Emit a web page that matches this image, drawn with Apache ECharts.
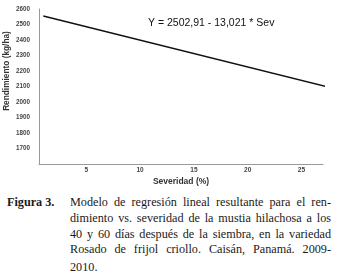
<!DOCTYPE html>
<html>
<head>
<meta charset="utf-8">
<script src="https://cdn.jsdelivr.net/npm/echarts@6/dist/echarts.min.js"></script>
<style>
html,body{margin:0;padding:0;background:#fff;}
#chart{position:absolute;left:0;top:0;width:341px;height:192px;}
#cap{position:absolute;left:0;top:0;width:341px;font-family:"Liberation Serif","DejaVu Serif",serif;font-size:12.2px;line-height:14px;color:#1a1a1a;}
#cap .fig{position:absolute;left:7px;font-weight:bold;}
#cap .ln{position:absolute;left:70px;width:261px;text-align:justify;text-align-last:justify;white-space:nowrap;}
#cap .last{text-align-last:left;}
</style>
</head>
<body>
<div id="chart"></div>
<div id="cap">
  <div class="fig" style="top:195px">Figura 3.</div>
  <div class="ln" style="top:195px">Modelo de regresión lineal resultante para el ren-</div>
  <div class="ln" style="top:211px">dimiento vs. severidad de la mustia hilachosa a los</div>
  <div class="ln" style="top:227px">40 y 60 días después de la siembra, en la variedad</div>
  <div class="ln" style="top:242px">Rosado de frijol criollo. Caisán, Panamá. 2009-</div>
  <div class="ln last" style="top:260px">2010.</div>
</div>
<script>
// valores
var sevTicks = [5, 10, 15, 20, 25];
var lineaSev = [1, 27.4];
var lineaRend = [2555, 2098];
var ecuacion = 'Y = 2502,91 - 13,021 * Sev';
var tituloY = 'Rendimiento (kg/ha)';

var datos = [];
for (var i = 0; i < lineaSev.length; i++) {
    datos.push([lineaSev[i], lineaRend[i]]);
}

var myChart = echarts.init(document.getElementById('chart'));
var option = {
    animation: false,
    grid: {left: 39, right: 18, top: 9, bottom: 28, outerBoundsMode: 'none'},
    xAxis: {
        type: 'value',
        min: 0.6,
        max: 27,
        name: 'Severidad (%)',
        nameLocation: 'middle',
        nameGap: 13,
        nameMoveOverlap: false,
        nameTextStyle: {fontFamily: 'Liberation Sans', fontWeight: 'bold', fontSize: 8.5, color: '#333'},
        axisLine: {show: true, lineStyle: {color: '#999', width: 1}},
        axisTick: {show: false},
        splitLine: {show: false},
        axisLabel: {
            customValues: sevTicks,
            fontFamily: 'Liberation Sans', fontWeight: 'bold', fontSize: 6.5, color: '#444', margin: 3
        }
    },
    yAxis: {
        type: 'value',
        min: 1600,
        max: 2600,
        interval: 100,
        axisLine: {show: true, lineStyle: {color: '#999', width: 1}},
        axisTick: {show: false},
        splitLine: {show: false},
        axisLabel: {
            fontFamily: 'Liberation Sans', fontWeight: 'bold', fontSize: 6.3, color: '#444', margin: 9,
            formatter: function (v) { return v === 1600 ? '' : v; }
        }
    },
    series: [{
        type: 'line',
        data: datos,
        symbol: 'none',
        clip: false,
        lineStyle: {color: '#111', width: 1.4}
    }],
    graphic: [{
        type: 'text',
        left: 148,
        top: 18,
        style: {text: ecuacion, fontFamily: 'Liberation Sans', fontSize: 10.5, fill: '#111'}
    }, {
        type: 'text',
        x: 7,
        y: 71,
        rotation: Math.PI / 2,
        style: {
            text: tituloY, fontFamily: 'Liberation Sans', fontWeight: 'bold', fontSize: 8.3, fill: '#333',
            align: 'center', verticalAlign: 'middle'
        }
    }]
};
myChart.setOption(option);
</script>
</body>
</html>
